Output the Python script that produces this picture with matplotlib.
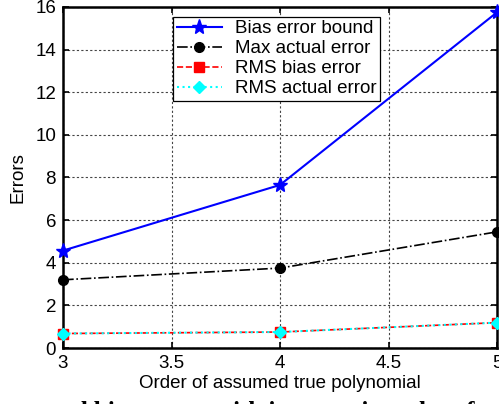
import matplotlib
matplotlib.use("Agg")
import matplotlib.pyplot as plt

plt.rcParams['font.family'] = ['Liberation Sans', 'DejaVu Sans']

orders = [3, 4, 5]
bias_bound = [4.57, 7.65, 15.75]
max_actual = [3.2, 3.75, 5.45]
rms_bias = [0.68, 0.75, 1.19]
rms_actual = [0.68, 0.75, 1.19]
xticks = [3, 3.5, 4, 4.5, 5]
yticks = [0, 2, 4, 6, 8, 10, 12, 14, 16]

fig = plt.figure(figsize=(4.99, 4.04), dpi=100)
ax = fig.add_axes([0.1263, 0.1386, 0.8697, 0.8441])

ax.plot(orders, bias_bound, '-', color='blue', lw=1.5, marker='*', ms=11,
        label='Bias error bound', clip_on=False, zorder=5)
ax.plot(orders, max_actual, '-.', color='black', lw=1.2, marker='o', ms=7,
        label='Max actual error', clip_on=False, zorder=5)
ax.plot(orders, rms_bias, '--', color='red', lw=1.2, marker='s', ms=7,
        label='RMS bias error', clip_on=False, zorder=5)
ax.plot(orders, rms_actual, ':', color='cyan', lw=1.5, marker='D', ms=6,
        label='RMS actual error', clip_on=False, zorder=6)

ax.set_xlim(3, 5)
ax.set_ylim(0, 16)
ax.set_xticks(xticks)
ax.set_xticklabels(['3', '3.5', '4', '4.5', '5'])
ax.set_yticks(yticks)
ax.grid(True, linestyle=(0, (2, 2)), color='#444444', lw=0.8)
ax.tick_params(direction='in', length=4, width=1.2, labelsize=13.5,
               top=True, right=True, pad=5)
for s in ax.spines.values():
    s.set_linewidth(1.8)

ax.set_xlabel('Order of assumed true polynomial', fontsize=13.5, labelpad=2)
ax.set_ylabel('Errors', fontsize=13.5, labelpad=6)

leg = ax.legend(loc='upper left', bbox_to_anchor=(0.253, 0.972), fontsize=13.5,
                frameon=True, fancybox=False, edgecolor='black', framealpha=1,
                borderpad=0.2, labelspacing=0.15, handlelength=2.4,
                handletextpad=0.7, borderaxespad=0)
leg.get_frame().set_linewidth(0.9)

fig.text(0.12, -0.036, 'nd bias errors with increase in order of', fontsize=18,
         fontweight='bold', family='Liberation Serif', va='baseline', ha='left')

fig.savefig('out.png', dpi=100)
